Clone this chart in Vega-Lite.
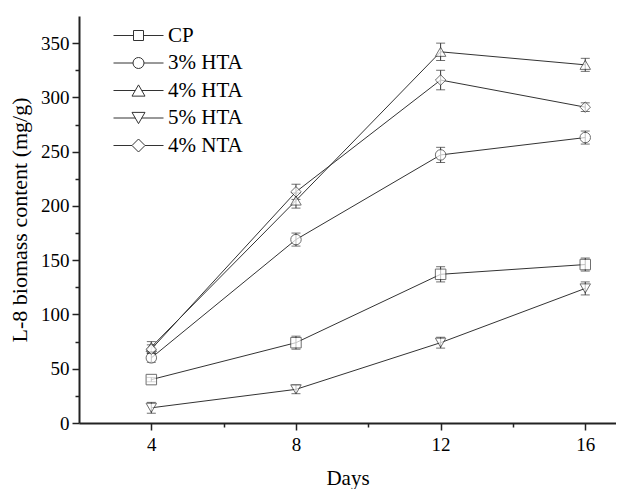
{
  "$schema": "https://vega.github.io/schema/vega-lite/v6.json",
  "autosize": {"type": "none"},
  "padding": {"left": 79, "top": 16, "right": 0, "bottom": 66},
  "width": 537,
  "height": 407,
  "config": {
    "view": {"stroke": null},
    "font": "Liberation Serif",
    "axis": {"grid": false, "labelFont": "Liberation Serif", "titleFont": "Liberation Serif", "labelColor": "#000", "titleColor": "#000", "titleFontWeight": "normal", "domainColor": "#222", "tickColor": "#222"},
    "legend": {"labelFont": "Liberation Serif", "labelColor": "#000"}
  },
  "data": {
    "values": [
      {"series": "CP", "day": 4, "value": 40, "err": 2},
      {"series": "CP", "day": 8, "value": 74, "err": 6},
      {"series": "CP", "day": 12, "value": 137, "err": 7},
      {"series": "CP", "day": 16, "value": 146, "err": 6},
      {"series": "3% HTA", "day": 4, "value": 60, "err": 4},
      {"series": "3% HTA", "day": 8, "value": 169, "err": 6},
      {"series": "3% HTA", "day": 12, "value": 247, "err": 7},
      {"series": "3% HTA", "day": 16, "value": 263, "err": 6},
      {"series": "4% HTA", "day": 4, "value": 70, "err": 5},
      {"series": "4% HTA", "day": 8, "value": 205, "err": 7},
      {"series": "4% HTA", "day": 12, "value": 342, "err": 8},
      {"series": "4% HTA", "day": 16, "value": 330, "err": 6},
      {"series": "5% HTA", "day": 4, "value": 14, "err": 5},
      {"series": "5% HTA", "day": 8, "value": 31, "err": 4},
      {"series": "5% HTA", "day": 12, "value": 74, "err": 5},
      {"series": "5% HTA", "day": 16, "value": 124, "err": 6},
      {"series": "4% NTA", "day": 4, "value": 68, "err": 4},
      {"series": "4% NTA", "day": 8, "value": 213, "err": 7},
      {"series": "4% NTA", "day": 12, "value": 316, "err": 9},
      {"series": "4% NTA", "day": 16, "value": 291, "err": 4}
    ]
  },
  "resolve": {"axis": {"x": "independent", "y": "independent"}, "scale": {"shape": "independent"}},
  "layer": [
    {
      "mark": {"type": "line", "color": "#333", "strokeWidth": 1},
      "encoding": {
        "x": {"field": "day", "type": "quantitative", "scale": {"domain": [2, 16.85], "nice": false, "zero": false},
          "axis": {"orient": "bottom", "values": [4, 8, 12, 16], "tickSize": 7, "tickWidth": 1.5, "domainWidth": 2, "labelFontSize": 19, "labelPadding": 5, "title": "Days", "titleFontSize": 21, "titlePadding": 13}},
        "y": {"field": "value", "type": "quantitative", "scale": {"domain": [0, 375], "nice": false},
          "axis": {"orient": "left", "values": [0, 50, 100, 150, 200, 250, 300, 350], "tickSize": 7, "tickWidth": 1.5, "domainWidth": 2, "labelFontSize": 19, "labelPadding": 3, "title": "L-8 biomass content (mg/g)", "titleFontSize": 22, "titlePadding": 9}},
        "detail": {"field": "series"}
      }
    },
    {
      "mark": {"type": "errorbar", "ticks": {"size": 9, "color": "#333"}, "color": "#333", "thickness": 1},
      "encoding": {
        "x": {"field": "day", "type": "quantitative", "axis": null},
        "y": {"field": "value", "type": "quantitative", "axis": null},
        "yError": {"field": "err"},
        "detail": {"field": "series"}
      }
    },
    {
      "mark": {"type": "point", "filled": true, "fill": "white", "stroke": "#333", "strokeWidth": 1},
      "encoding": {
        "x": {"field": "day", "type": "quantitative",
          "axis": {"orient": "bottom", "values": [6, 10, 14], "tickSize": 4, "tickWidth": 1.5, "labels": false, "domain": false, "title": null}},
        "y": {"field": "value", "type": "quantitative",
          "axis": {"orient": "left", "values": [25, 75, 125, 175, 225, 275, 325], "tickSize": 4, "tickWidth": 1.5, "labels": false, "domain": false, "title": null}},
        "shape": {"field": "series", "type": "nominal",
          "scale": {"domain": ["CP", "3% HTA", "4% HTA", "5% HTA", "4% NTA"], "range": ["square", "circle", "triangle-up", "triangle-down", "diamond"]},
          "legend": null},
        "size": {"value": 110}
      }
    },
    {
      "mark": {"type": "point", "filled": false, "color": "#333", "strokeWidth": 1, "opacity": 0},
      "encoding": {
        "x": {"field": "day", "type": "quantitative", "axis": null},
        "y": {"field": "value", "type": "quantitative", "axis": null},
        "shape": {"field": "series", "type": "nominal",
          "scale": {"domain": ["CP", "3% HTA", "4% HTA", "5% HTA", "4% NTA"], "range": [
            "M-2,0H-0.4M0.4,0H2M-0.4,-0.4H0.4V0.4H-0.4Z",
            "M-2,0H-0.44M0.44,0H2M-0.44,0A0.44,0.44 0 1,0 0.44,0A0.44,0.44 0 1,0 -0.44,0Z",
            "M-2,0H-0.26M0.26,0H2M0,-0.45L0.52,0.45L-0.52,0.45Z",
            "M-2,0H-0.26M0.26,0H2M0,0.45L0.52,-0.45L-0.52,-0.45Z",
            "M-2,0H-0.52M0.52,0H2M0,-0.52L0.52,0L0,0.52L-0.52,0Z"]},
          "legend": {
            "title": null, "orient": "none", "legendX": 46.5, "legendY": 6.5,
            "symbolSize": 625, "labelOffset": 16.5, "labelFontSize": 21, "rowPadding": 4.5,
            "symbolOpacity": 1, "symbolStrokeColor": "#333", "symbolStrokeWidth": 1
          }},
        "size": {"value": 110}
      }
    }
  ]
}
